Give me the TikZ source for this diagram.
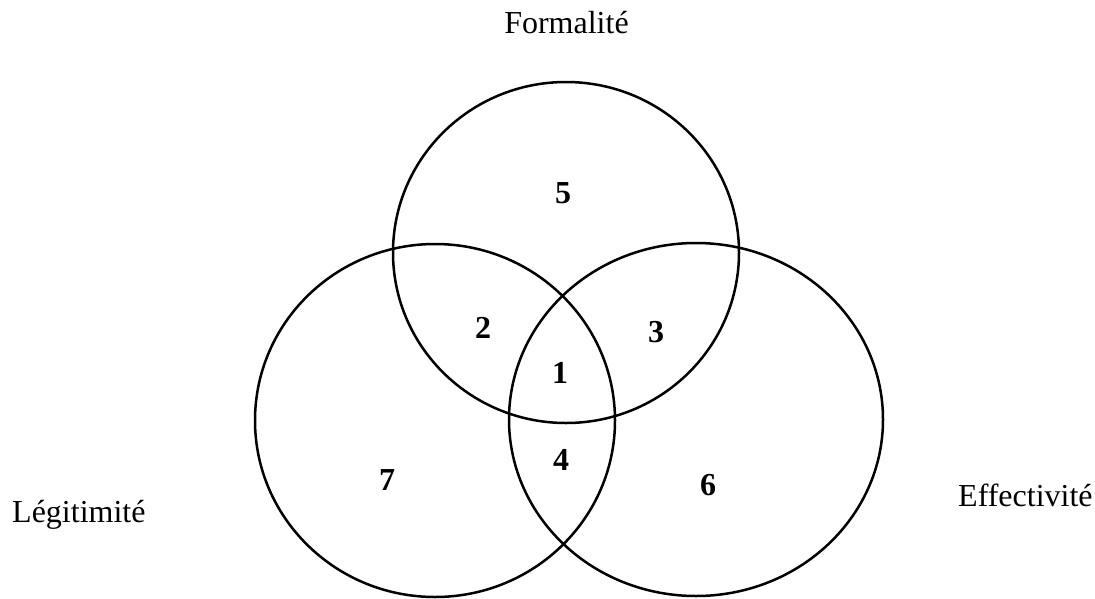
\documentclass[tikz,border=0pt]{standalone}
\usepackage{fontspec}
\setmainfont{Liberation Serif}
\begin{document}
\begin{tikzpicture}[x=1pt,y=-1pt,
  ring/.style={draw=black,line width=2.5pt},
  setlabel/.style={font=\fontsize{32}{38}\selectfont,inner sep=0pt},
  region/.style={font=\fontsize{32}{38}\selectfont\bfseries,inner sep=0pt}]
\useasboundingbox (0,0) rectangle (1095,598);
\draw[ring] (566,252.5) ellipse [x radius=173, y radius=170.5];
\draw[ring] (435,420.5) ellipse [x radius=180, y radius=176.5];
\draw[ring] (696,419.5) ellipse [x radius=187, y radius=176.5];
\node[setlabel,anchor=base] (form) at (566.5,33) {Formalité};
\node[setlabel,anchor=base west] (legi) at (12,522) {Légitimité};
\node[setlabel,anchor=base west] (effe) at (958,506) {Effectivité};
\node[region] (r5) at (563,193) {5};
\node[region] (r2) at (483,328) {2};
\node[region] (r7) at (387,480) {7};
\node[region] (r3) at (656,332) {3};
\node[region] (r1) at (560,373) {1};
\node[region] (r4) at (561,460) {4};
\node[region] (r6) at (708,485) {6};
\end{tikzpicture}
\end{document}
